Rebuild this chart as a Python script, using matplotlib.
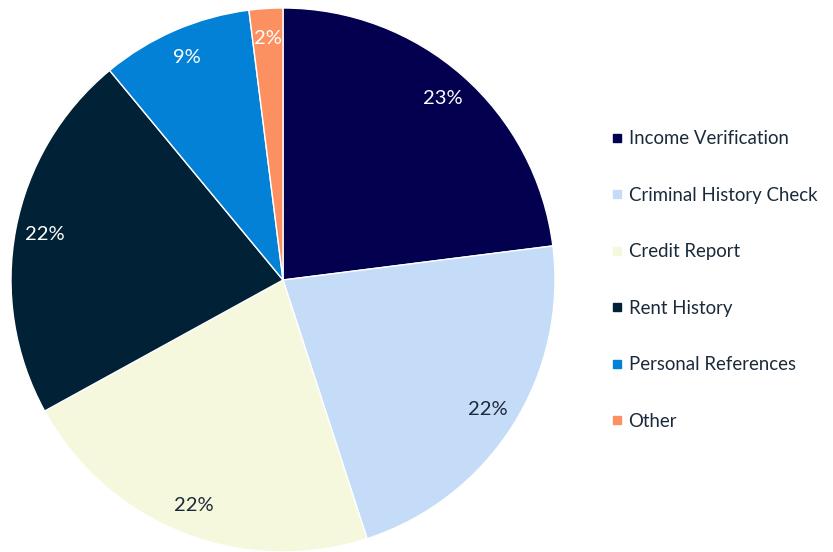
import matplotlib
matplotlib.use("Agg")
import matplotlib.pyplot as plt
from matplotlib.lines import Line2D

plt.rcParams['font.family'] = ['Lato', 'DejaVu Sans']

categories = ["Income Verification", "Criminal History Check", "Credit Report",
              "Rent History", "Personal References", "Other"]
shares = [23, 22, 22, 22, 9, 2]
colors = ["#03004f", "#c5dcf8", "#f5f8dc", "#012236", "#0381d6", "#fd9061"]
label_colors = ["white", "#1b2a3a", "#1b2a3a", "white", "white", "white"]

fig = plt.figure(figsize=(8.33, 5.52), dpi=100)
ax = fig.add_axes([11 / 833, 0 / 552, 544 / 833, 544 / 552])

wedges, texts, autotexts = ax.pie(
    shares, colors=colors, startangle=90, counterclock=False,
    autopct=lambda p: f"{p:.0f}%", pctdistance=0.89,
    wedgeprops=dict(edgecolor="white", linewidth=1.0),
    textprops=dict(fontsize=14.5),
)
for t, c in zip(autotexts, label_colors):
    t.set_color(c)
ax.set_xlim(-1, 1)
ax.set_ylim(-1, 1)
ax.set_aspect("equal")

handles = [Line2D([0], [0], marker="s", linestyle="none", markersize=6,
                  markerfacecolor=c, markeredgecolor=c) for c in colors]
leg = fig.legend(handles, categories, loc="center left",
                 bbox_to_anchor=(602 / 833, 1 - 280 / 552), frameon=False,
                 fontsize=13.4, handlelength=0.6, handletextpad=0.33,
                 labelspacing=2.12, borderpad=0)
for t in leg.get_texts():
    t.set_color("#1b2a3a")

fig.savefig("out.png", dpi=100)
